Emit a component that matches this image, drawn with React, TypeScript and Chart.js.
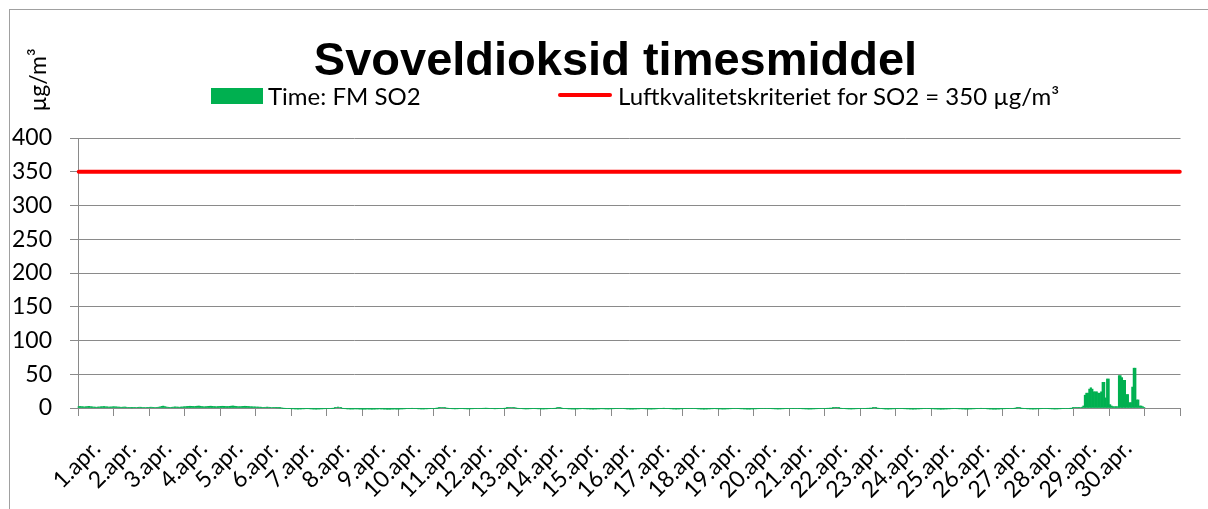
import React, { useEffect, useRef } from 'react';
import { Chart, registerables } from 'chart.js';

Chart.register(...registerables);

// Day labels on the category axis (the 31st day has no label and no data)
const dayLabels: string[] = [
  '1.apr.', '2.apr.', '3.apr.', '4.apr.', '5.apr.', '6.apr.', '7.apr.', '8.apr.', '9.apr.', '10.apr.',
  '11.apr.', '12.apr.', '13.apr.', '14.apr.', '15.apr.', '16.apr.', '17.apr.', '18.apr.', '19.apr.', '20.apr.',
  '21.apr.', '22.apr.', '23.apr.', '24.apr.', '25.apr.', '26.apr.', '27.apr.', '28.apr.', '29.apr.', '30.apr.', '',
];

// Hourly SO2 values (µg/m³), one array of 24 hours per day
const d01 = [2.1, 2.3, 2.0, 1.8, 1.6, 1.9, 2.2, 2.4, 2.0, 1.7, 1.5, 1.3, 1.2, 1.4, 1.6, 1.8, 2.0, 2.2, 1.9, 1.7, 1.5, 1.4, 1.6, 1.8];
const d02 = [1.9, 1.7, 1.5, 1.4, 1.2, 1.1, 1.3, 1.5, 1.2, 0.9, 0.6, 0.4, 0.3, 0.5, 0.6, 0.8, 1.0, 1.2, 1.1, 0.9, 0.8, 0.7, 0.9, 1.0];
const d03 = [1.1, 1.2, 1.0, 0.9, 0.8, 1.0, 1.3, 1.6, 2.4, 2.8, 2.1, 1.5, 1.2, 1.0, 0.9, 1.1, 1.4, 1.6, 1.5, 1.3, 1.2, 1.4, 1.6, 1.8];
const d04 = [2.0, 2.2, 2.4, 2.6, 2.5, 2.3, 2.1, 2.4, 2.7, 2.9, 2.6, 2.2, 1.9, 1.8, 2.0, 2.3, 2.5, 2.7, 2.4, 2.2, 2.0, 1.9, 2.1, 2.3];
const d05 = [2.4, 2.6, 2.5, 2.3, 2.1, 2.2, 2.5, 2.8, 3.0, 2.7, 2.4, 2.1, 1.9, 2.0, 2.2, 2.4, 2.6, 2.5, 2.3, 2.1, 1.9, 1.8, 1.7, 1.6];
const d06 = [1.5, 1.4, 1.3, 1.2, 1.0, 0.9, 1.1, 1.3, 1.2, 1.0, 0.8, 0.6, 0.5, 0.4, 0.3, 0.2, 0.1, 0.0, -0.2, -0.4, -0.6, -0.8, -1.0, -1.1];
const d07 = [-1.2, -1.3, -1.4, -1.5, -1.6, -1.5, -1.4, -1.3, -1.2, -1.1, -1.0, -1.1, -1.2, -1.4, -1.5, -1.6, -1.7, -1.6, -1.5, -1.4, -1.3, -1.2, -1.1, -1.0];
const d08 = [-0.9, -0.8, -0.6, -0.4, -0.2, 0.3, 0.9, 1.4, 0.8, 0.2, -0.4, -0.8, -1.1, -1.3, -1.4, -1.5, -1.6, -1.5, -1.4, -1.3, -1.4, -1.5, -1.6, -1.7];
const d09 = [-1.8, -1.7, -1.6, -1.5, -1.6, -1.7, -1.8, -1.7, -1.6, -1.5, -1.4, -1.3, -1.4, -1.5, -1.6, -1.7, -1.8, -1.9, -1.8, -1.7, -1.6, -1.5, -1.6, -1.7];
const d10 = [-1.6, -1.5, -1.4, -1.3, -1.2, -1.0, -0.8, -0.6, -0.5, -0.4, -0.6, -0.8, -1.0, -1.2, -1.3, -1.4, -1.5, -1.4, -1.3, -1.2, -1.1, -1.0, -0.9, -0.7];
const d11 = [-0.5, -0.3, -0.1, 0.2, 0.5, 0.8, 0.6, 0.3, 0.0, -0.3, -0.6, -0.9, -1.1, -1.2, -1.3, -1.2, -1.1, -1.0, -0.9, -1.0, -1.1, -1.2, -1.3, -1.4];
const d12 = [-1.3, -1.2, -1.1, -1.0, -0.9, -0.8, -0.7, -0.6, -0.5, -0.4, -0.3, -0.2, -0.4, -0.6, -0.8, -1.0, -1.1, -1.2, -1.1, -1.0, -0.9, -0.8, -0.6, -0.4];
const d13 = [-0.2, 0.1, 0.4, 0.7, 0.9, 0.6, 0.3, 0.0, -0.3, -0.6, -0.8, -1.0, -1.2, -1.3, -1.4, -1.3, -1.2, -1.1, -1.0, -0.9, -1.0, -1.1, -1.2, -1.3];
const d14 = [-1.4, -1.5, -1.4, -1.3, -1.2, -1.1, -1.0, -0.8, -0.6, -0.4, -0.2, 0.1, 0.3, 0.1, -0.2, -0.5, -0.8, -1.0, -1.2, -1.3, -1.4, -1.5, -1.6, -1.5];
const d15 = [-1.4, -1.3, -1.2, -1.1, -1.0, -1.1, -1.2, -1.3, -1.4, -1.5, -1.6, -1.7, -1.6, -1.5, -1.4, -1.3, -1.2, -1.1, -1.2, -1.3, -1.4, -1.5, -1.4, -1.3];
const d16 = [-1.2, -1.1, -1.0, -0.9, -0.8, -0.7, -0.6, -0.8, -1.0, -1.2, -1.4, -1.5, -1.6, -1.7, -1.6, -1.5, -1.4, -1.3, -1.2, -1.1, -1.0, -1.1, -1.2, -1.3];
const d17 = [-1.4, -1.5, -1.6, -1.5, -1.4, -1.3, -1.2, -1.0, -0.8, -0.6, -0.4, -0.3, -0.5, -0.7, -0.9, -1.1, -1.3, -1.4, -1.5, -1.6, -1.5, -1.4, -1.3, -1.2];
const d18 = [-1.1, -1.0, -0.9, -0.8, -0.7, -0.6, -0.5, -0.7, -0.9, -1.1, -1.3, -1.4, -1.5, -1.6, -1.7, -1.6, -1.5, -1.4, -1.3, -1.2, -1.1, -1.0, -1.1, -1.2];
const d19 = [-1.3, -1.4, -1.5, -1.6, -1.5, -1.4, -1.3, -1.2, -1.1, -1.0, -0.9, -0.8, -0.9, -1.0, -1.1, -1.2, -1.3, -1.4, -1.5, -1.6, -1.7, -1.6, -1.5, -1.4];
const d20 = [-1.3, -1.2, -1.1, -1.0, -0.9, -0.8, -0.7, -0.6, -0.7, -0.8, -0.9, -1.0, -1.1, -1.2, -1.3, -1.4, -1.5, -1.4, -1.3, -1.2, -1.1, -1.0, -0.9, -0.8];
const d21 = [-0.7, -0.6, -0.5, -0.6, -0.7, -0.8, -0.9, -1.0, -1.1, -1.2, -1.3, -1.4, -1.5, -1.6, -1.5, -1.4, -1.3, -1.2, -1.1, -1.0, -0.9, -0.8, -0.7, -0.6];
const d22 = [-0.5, -0.4, -0.3, -0.2, -0.1, 0.1, 0.3, 0.5, 0.3, 0.1, -0.2, -0.5, -0.8, -1.0, -1.2, -1.3, -1.4, -1.5, -1.4, -1.3, -1.2, -1.1, -1.0, -0.9];
const d23 = [-0.8, -0.7, -0.6, -0.5, -0.4, -0.3, -0.2, -0.1, 0.2, 0.4, 0.2, -0.1, -0.4, -0.7, -1.0, -1.2, -1.4, -1.5, -1.6, -1.5, -1.4, -1.3, -1.2, -1.1];
const d24 = [-1.0, -0.9, -0.8, -0.9, -1.0, -1.1, -1.2, -1.3, -1.4, -1.5, -1.6, -1.7, -1.6, -1.5, -1.4, -1.3, -1.2, -1.1, -1.0, -0.9, -0.8, -0.9, -1.0, -1.1];
const d25 = [-1.2, -1.3, -1.4, -1.5, -1.6, -1.7, -1.8, -1.7, -1.6, -1.5, -1.4, -1.3, -1.2, -1.1, -1.0, -0.9, -1.0, -1.1, -1.2, -1.3, -1.4, -1.5, -1.6, -1.7];
const d26 = [-1.6, -1.5, -1.4, -1.3, -1.2, -1.1, -1.0, -0.8, -0.6, -0.4, -0.6, -0.8, -1.0, -1.2, -1.4, -1.5, -1.6, -1.7, -1.8, -1.7, -1.6, -1.5, -1.4, -1.3];
const d27 = [-1.2, -1.1, -1.0, -0.9, -0.8, -0.7, -0.6, -0.4, -0.2, 0.1, 0.4, 0.2, -0.1, -0.4, -0.7, -1.0, -1.2, -1.3, -1.4, -1.5, -1.6, -1.5, -1.4, -1.3];
const d28 = [-1.2, -1.1, -1.0, -0.9, -0.8, -0.9, -1.0, -1.1, -1.2, -1.3, -1.4, -1.5, -1.4, -1.3, -1.2, -1.1, -1.0, -0.9, -0.8, -0.7, -0.6, -0.4, -0.2, 0.2];
const d29 = [0.5, 0.6, 0.4, 0.5, 0.8, 1.2, 3.0, 19, 22, 22, 28, 30, 28, 24, 24, 24, 22, 22, 24, 38, 38, 15, 43, 43];
const d30 = [5, 3, 2, 2, 2, 2, 48, 48, 45, 41, 41, 20, 20, 8, 8, 31, 59, 59, 12, 12, 3, 3, 2, 0.5];

const dailySeries: number[][] = [
  d01, d02, d03, d04, d05, d06, d07, d08, d09, d10, d11, d12, d13, d14, d15,
  d16, d17, d18, d19, d20, d21, d22, d23, d24, d25, d26, d27, d28, d29, d30,
];

const limitValue = 350;
const yMin = 0;
const yMax = 400;
const yStep = 50;

const seriesLabel = 'Time: FM SO2';
const limitLabel = 'Luftkvalitetskriteriet for SO2 = 350 µg/m³';
const titleText = 'Svoveldioksid timesmiddel';
const unitText = 'µg/m³';

const GRID = '#8a8a8a';
const GREEN = '#00B050';
const RED = '#FF0000';
const FONT = 'Lato, "Open Sans", sans-serif';
const HOURS = 24;

export default function App() {
  const canvasRef = useRef<HTMLCanvasElement | null>(null);

  useEffect(() => {
    document.body.style.overflow = 'hidden';
    const canvas = canvasRef.current;
    if (!canvas) return;

    const labels: string[] = [];
    const so2: (number | null)[] = [];
    dayLabels.forEach((d, i) => {
      const day = dailySeries[i];
      for (let h = 0; h < HOURS; h++) {
        labels.push(h === HOURS / 2 ? d : '');
        so2.push(day ? day[h] : null);
      }
    });
    const limit = labels.map(() => limitValue);

    const chart = new Chart(canvas, {
      type: 'bar',
      data: {
        labels,
        datasets: [
          {
            type: 'line',
            label: limitLabel,
            data: limit,
            borderColor: RED,
            backgroundColor: RED,
            borderWidth: 4,
            pointRadius: 0,
            borderCapStyle: 'round',
            order: 0,
          } as any,
          {
            type: 'bar',
            label: seriesLabel,
            data: so2,
            backgroundColor: GREEN,
            borderWidth: 0,
            barPercentage: 1,
            categoryPercentage: 1,
            clip: false,
            order: 1,
          } as any,
        ],
      },
      options: {
        responsive: false,
        animation: false,
        events: [],
        layout: { padding: { left: 0, right: 27.5, top: 128, bottom: 0 } },
        plugins: {
          legend: { display: false },
          title: { display: false },
          tooltip: { enabled: false },
        },
        scales: {
          x: {
            type: 'category',
            offset: true,
            grid: {
              display: true,
              offset: true,
              drawOnChartArea: false,
              drawTicks: true,
              tickLength: 8,
              tickWidth: 1,
              tickColor: (c: any) =>
                c.type !== 'tick' || c.index % HOURS === 0 ? GRID : 'rgba(0,0,0,0)',
            },
            border: { display: true, color: GRID, width: 1 },
            ticks: {
              autoSkip: false,
              minRotation: 45,
              maxRotation: 45,
              padding: 19,
              color: '#000',
              font: { family: FONT, size: 23 },
            },
            afterFit: (s: any) => {
              s.height = 100;
              s.paddingLeft = 0;
              s.paddingRight = 0;
            },
          },
          y: {
            min: yMin,
            max: yMax,
            ticks: {
              stepSize: yStep,
              padding: 18,
              color: '#000',
              font: { family: FONT, size: 23 },
            },
            grid: { color: GRID, lineWidth: 1, drawTicks: true, tickLength: 8 },
            border: { display: true, color: GRID, width: 1 },
            afterFit: (s: any) => {
              s.width = 68;
              s.paddingTop = 0;
              s.paddingBottom = 0;
            },
          },
        },
      },
    });
    return () => chart.destroy();
  }, []);

  const textStyle: React.CSSProperties = {
    position: 'absolute',
    fontFamily: FONT,
    fontSize: 23,
    lineHeight: '23px',
    color: '#000',
    whiteSpace: 'nowrap',
  };
  const legendText: React.CSSProperties = { ...textStyle, fontSize: 24, lineHeight: '24px', top: 73.6 };

  return (
    <div
      style={{
        position: 'absolute',
        left: 9,
        top: 9,
        width: 1300,
        height: 600,
        border: '1px solid #a0a0a0',
        background: '#fff',
        boxSizing: 'border-box',
      }}
    >
      <canvas
        ref={canvasRef}
        width={1198}
        height={498}
        style={{ position: 'absolute', left: 0, top: 0, width: 1198, height: 498 }}
      />
      <div
        style={{
          position: 'absolute',
          left: 605.5,
          top: 24.6,
          transform: 'translateX(-50%)',
          fontFamily: '"Liberation Sans", Arial, sans-serif',
          fontWeight: 'bold',
          fontSize: 47,
          lineHeight: '47px',
          color: '#000',
          whiteSpace: 'nowrap',
        }}
      >
        {titleText}
      </div>
      <div
        style={{
          ...textStyle,
          left: -8,
          top: 57.5,
          width: 70,
          height: 24,
          lineHeight: '24px',
          textAlign: 'center',
          transform: 'rotate(-90deg)',
          transformOrigin: '50% 50%',
        }}
      >
        {unitText}
      </div>
      <div style={{ position: 'absolute', left: 201, top: 78, width: 52, height: 16, background: GREEN }} />
      <div style={{ ...legendText, left: 258 }}>{seriesLabel}</div>
      <div style={{ position: 'absolute', left: 548, top: 83, width: 54, height: 4, borderRadius: 2, background: RED }} />
      <div style={{ ...legendText, left: 608 }}>{limitLabel}</div>
    </div>
  );
}
